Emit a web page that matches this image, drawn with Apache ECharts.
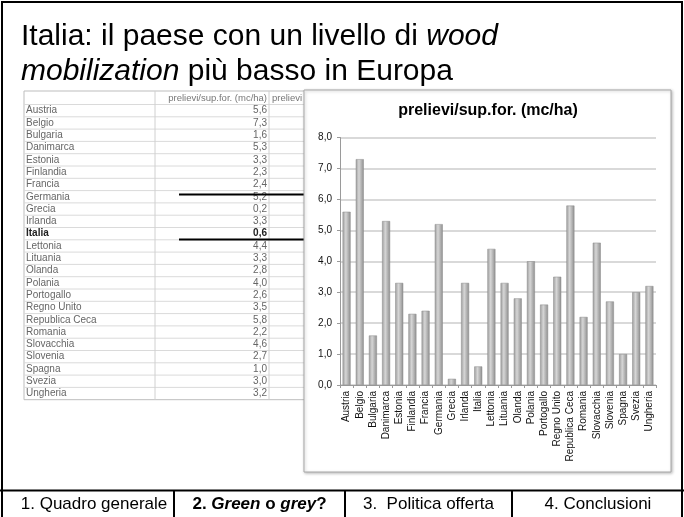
<!DOCTYPE html>
<html>
<head>
<meta charset="utf-8">
<script src="https://cdn.jsdelivr.net/npm/echarts@6/dist/echarts.min.js"></script>
<style>
html, body { margin: 0; padding: 0; background: #fff; }
#main { width: 684px; height: 517px; }
</style>
</head>
<body>
<div id="main"></div>
<script>
// dati
var paesi = ['Austria', 'Belgio', 'Bulgaria', 'Danimarca', 'Estonia', 'Finlandia',
    'Francia', 'Germania', 'Grecia', 'Irlanda', 'Italia', 'Lettonia', 'Lituania',
    'Olanda', 'Polania', 'Portogallo', 'Regno Unito', 'Republica Ceca', 'Romania',
    'Slovacchia', 'Slovenia', 'Spagna', 'Svezia', 'Ungheria'];
var prelievi = [5.6, 7.3, 1.6, 5.3, 3.3, 2.3, 2.4, 5.2, 0.2, 3.3, 0.6, 4.4, 3.3,
    2.8, 4.0, 2.6, 3.5, 5.8, 2.2, 4.6, 2.7, 1.0, 3.0, 3.2];
var intestazioni = ['prelievi/sup.for. (mc/ha)', 'prelievi'];
var titoloGrafico = 'prelievi/sup.for. (mc/ha)';
var voci = ['1. Quadro generale', '{b|2. }{bi|Green}{b| o }{bi|grey}{b|?}', '3.  Politica offerta', '4. Conclusioni'];

function virgola(v) { return v.toFixed(1).replace('.', ','); }

var chart = echarts.init(document.getElementById('main'));

function linea(x1, y1, x2, y2, col, w, z) {
    return { type: 'line', z: z, silent: true,
        shape: { x1: x1, y1: y1, x2: x2, y2: y2 },
        style: { stroke: col, lineWidth: w } };
}
function testo(x, y, t, font, fill, align, z, rich) {
    return { type: 'text', z: z, silent: true, x: x, y: y,
        style: { text: t, font: font, fill: fill, align: align, textAlign: align,
            verticalAlign: 'middle', textVerticalAlign: 'middle', rich: rich } };
}

// tabella a sinistra (in parte coperta dal grafico)
var el = [];
var tX = 24, tY = 91, c1 = 155, c2 = 269, tR = 312, hH = 13.5, rH = 12.3;
var tB = tY + hH + paesi.length * rH;
el.push({ type: 'rect', z: 1, silent: true, shape: { x: tX, y: tY, width: tR - tX, height: tB - tY },
    style: { fill: '#fff', stroke: '#bdbdbd', lineWidth: 1 } });
for (var i = 0; i < paesi.length; i++) {
    var y = tY + hH + i * rH;
    el.push(linea(tX, y, tR, y, '#dadada', 1, 1));
    var f = paesi[i] === 'Italia' ? 'bold 10px Liberation Sans' : '10px Liberation Sans';
    var col = paesi[i] === 'Italia' ? '#222' : '#666';
    el.push(testo(tX + 2, y + rH / 2, paesi[i], f, col, 'left', 1));
    el.push(testo(c2 - 2, y + rH / 2, virgola(prelievi[i]), f, col, 'right', 1));
}
el.push(linea(c1, tY, c1, tB, '#d0d0d0', 1, 1));
el.push(linea(c2, tY, c2, tB, '#d0d0d0', 1, 1));
el.push(testo(c2 - 2, tY + hH / 2 + 1, intestazioni[0], '9.5px Liberation Sans', '#777', 'right', 1));
el.push(testo(c2 + 3, tY + hH / 2 + 1, intestazioni[1], '9.5px Liberation Sans', '#777', 'left', 1));

// righe nere sulla tabella
el.push(linea(179, 194.5, 306, 194.5, '#000', 2, 2));
el.push(linea(179, 239.5, 306, 239.5, '#000', 2, 2));

// riquadro del grafico
el.push({ type: 'rect', z: 3, silent: true, shape: { x: 304, y: 90, width: 367, height: 382 },
    style: { fill: '#fff', stroke: '#a8a8a8', lineWidth: 1,
        shadowBlur: 3, shadowColor: 'rgba(0,0,0,0.25)', shadowOffsetX: 1, shadowOffsetY: 1 } });
el.push(testo(488, 111, titoloGrafico, 'bold 16px Liberation Sans', '#000', 'center', 4));

// titolo della slide
var tit = testo(21, 19, 'Italia: il paese con un livello di {i|wood}\n{i|mobilization} più basso in Europa',
    '30px Liberation Sans', '#000', 'left', 4, { i: { fontStyle: 'italic', fontSize: 30, fontFamily: 'Liberation Sans', fill: '#000' } });
tit.style.lineHeight = 35;
tit.style.verticalAlign = 'top';
tit.style.textVerticalAlign = 'top';
el.push(tit);

// cornice e piè di pagina
el.push({ type: 'rect', z: 5, silent: true, shape: { x: 2, y: 2, width: 680, height: 560 },
    style: { fill: null, stroke: '#000', lineWidth: 2 } });
el.push(linea(0, 490.5, 684, 490.5, '#000', 2, 5));
var divisori = [174, 345, 512];
divisori.forEach(function (x) { el.push(linea(x, 490, x, 517, '#000', 2, 5)); });
var centri = [94, 259.5, 428.5, 598];
var ricco = { b: { fontWeight: 'bold', fontSize: 17, fontFamily: 'Liberation Sans' },
    bi: { fontWeight: 'bold', fontStyle: 'italic', fontSize: 17, fontFamily: 'Liberation Sans' } };
voci.forEach(function (t, k) {
    el.push(testo(centri[k], 504, t, '17px Liberation Sans', '#000', 'center', 5, k === 1 ? ricco : undefined));
});

var option = {
    animation: false,
    backgroundColor: '#fff',
    textStyle: { fontFamily: 'Liberation Sans' },
    graphic: { elements: el },
    grid: { left: 340, right: 28, top: 137.5, bottom: 132, containLabel: false },
    xAxis: {
        type: 'category',
        data: paesi,
        z: 10,
        axisLine: { lineStyle: { color: '#9a9a9a', width: 1 } },
        axisTick: { show: true, length: 3, lineStyle: { color: '#9a9a9a' } },
        axisLabel: { rotate: 90, interval: 0, fontSize: 10, color: '#111', margin: 6 }
    },
    yAxis: {
        type: 'value',
        min: 0, max: 8, interval: 1,
        z: 10,
        axisLine: { show: true, lineStyle: { color: '#9a9a9a', width: 1 } },
        axisTick: { show: true, length: 3, lineStyle: { color: '#9a9a9a' } },
        axisLabel: { fontSize: 10, color: '#111', margin: 8, formatter: virgola },
        splitLine: { lineStyle: { color: '#d9d9d9', width: 2 } }
    },
    series: [{
        type: 'bar',
        z: 12,
        data: prelievi,
        barWidth: 8,
        itemStyle: {
            borderColor: '#8a8a8a',
            borderWidth: 0.5,
            color: new echarts.graphic.LinearGradient(0, 0, 1, 0, [
                { offset: 0, color: '#9c9c9c' },
                { offset: 0.4, color: '#d6d6d6' },
                { offset: 1, color: '#8e8e8e' }
            ])
        }
    }]
};

chart.setOption(option);
</script>
</body>
</html>
